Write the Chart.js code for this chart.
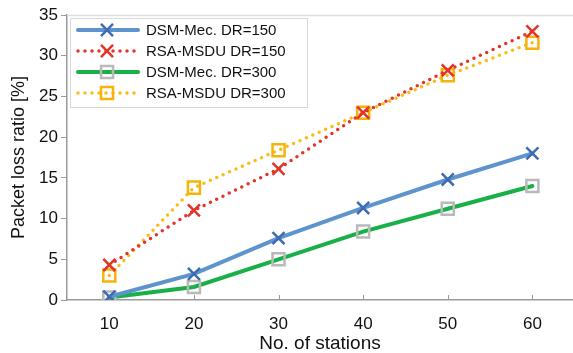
<!DOCTYPE html>
<html>
<head>
<meta charset="utf-8">
<script src="https://cdn.jsdelivr.net/npm/chart.js@4/dist/chart.umd.min.js"></script>
<style>
  html, body { margin: 0; padding: 0; background: #fff; }
  #wrap { width: 573px; height: 353px; }
</style>
</head>
<body>
<div id="wrap"><canvas id="loss-chart"></canvas></div>
<script>
const stations = [10, 20, 30, 40, 50, 60];
const dsm150 = [0.4, 3.2, 7.6, 11.3, 14.8, 18.0];
const rsa150 = [4.3, 11.0, 16.1, 23.0, 28.2, 33.0];
const dsm300 = [0.3, 1.6, 5.0, 8.4, 11.2, 14.0];
const rsa300 = [3.0, 13.8, 18.4, 23.0, 27.6, 31.6];
const yTicks = [0, 5, 10, 15, 20, 25, 30, 35];
const seriesNames = ['DSM-Mec. DR=150', 'RSA-MSDU DR=150', 'DSM-Mec. DR=300', 'RSA-MSDU DR=300'];

const FONT = '"Liberation Sans", Arial, sans-serif';
const AXIS = '#9a9a9a';

function series(label, values, line, marker, style, dotted) {
    return {
        label: label,
        data: stations.map((s, i) => ({x: s, y: values[i]})),
        borderColor: line,
        borderWidth: dotted ? 3.5 : 4,
        borderDash: dotted ? [0, 7] : [],
        borderCapStyle: 'round',
        pointStyle: style,
        pointRadius: 8.5,
        pointHoverRadius: 8.5,
        pointBorderWidth: 2.5,
        pointBorderColor: marker,
        pointBackgroundColor: 'rgba(0,0,0,0)',
        tension: 0,
        fill: false
    };
}

// legend box with line sample + marker, inside the plot's top-left corner
const boxLegend = {
    id: 'boxLegend',
    afterDatasetsDraw(chart) {
        const ctx = chart.ctx;
        const area = chart.chartArea;
        const x0 = area.left + 3, y0 = area.top + 3;
        ctx.save();
        ctx.fillStyle = '#fff';
        ctx.strokeStyle = '#d8d8d8';
        ctx.lineWidth = 1;
        ctx.fillRect(x0, y0, 237, 89);
        ctx.strokeRect(x0 + 0.5, y0 + 0.5, 237, 89);
        chart.data.datasets.forEach((ds, i) => {
            const cy = y0 + 12 + i * 21;
            ctx.save();
            ctx.strokeStyle = ds.borderColor;
            ctx.lineWidth = ds.borderWidth;
            ctx.lineCap = 'round';
            ctx.setLineDash(ds.borderDash);
            ctx.beginPath();
            ctx.moveTo(x0 + 8, cy);
            ctx.lineTo(x0 + 68, cy);
            ctx.stroke();
            ctx.restore();
            ctx.strokeStyle = ds.pointBorderColor;
            ctx.fillStyle = 'rgba(0,0,0,0)';
            ctx.lineWidth = ds.pointBorderWidth;
            ctx.setLineDash([]);
            Chart.helpers.drawPoint(ctx, {pointStyle: ds.pointStyle, radius: ds.pointRadius, borderWidth: ds.pointBorderWidth, rotation: 0}, x0 + 37, cy);
            ctx.fillStyle = '#111';
            ctx.font = '15px ' + FONT;
            ctx.textBaseline = 'middle';
            ctx.fillText(seriesNames[i], x0 + 76, cy + 1);
        });
        ctx.restore();
    }
};

// frame top line and inward x ticks
const frame = {
    id: 'frame',
    beforeDatasetsDraw(chart) {
        const ctx = chart.ctx;
        const area = chart.chartArea;
        const xs = chart.scales.x;
        ctx.save();
        ctx.strokeStyle = '#dedede';
        ctx.lineWidth = 1.5;
        ctx.beginPath();
        ctx.moveTo(area.left, area.top + 0.5);
        ctx.lineTo(area.right, area.top + 0.5);
        ctx.stroke();
        ctx.strokeStyle = AXIS;
        ctx.lineWidth = 1;
        stations.forEach(s => {
            const px = Math.round(xs.getPixelForValue(s)) + 0.5;
            ctx.beginPath();
            ctx.moveTo(px, area.bottom);
            ctx.lineTo(px, area.bottom - 5);
            ctx.stroke();
        });
        ctx.restore();
    }
};

new Chart(document.getElementById('loss-chart').getContext('2d'), {
    type: 'line',
    data: {
        datasets: [
            series(seriesNames[0], dsm150, 'rgb(94,148,205)', 'rgb(62,108,178)', 'crossRot', false),
            series(seriesNames[1], rsa150, 'rgb(226,52,40)', 'rgb(226,52,40)', 'crossRot', true),
            series(seriesNames[2], dsm300, 'rgb(25,176,72)', 'rgb(185,185,185)', 'rect', false),
            series(seriesNames[3], rsa300, 'rgb(250,188,20)', 'rgb(246,180,10)', 'rect', true)
        ]
    },
    options: {
        responsive: true,
        maintainAspectRatio: false,
        animation: false,
        layout: {autoPadding: false, padding: {top: 15, right: 0, left: 0, bottom: 0}},
        plugins: {legend: {display: false}, tooltip: {enabled: false}},
        scales: {
            x: {
                type: 'linear',
                min: 5,
                max: 64.8,
                afterBuildTicks: axis => { axis.ticks = stations.map(v => ({value: v})); },
                afterFit: axis => { axis.height = 53; axis.paddingLeft = 0; axis.paddingRight = 0; },
                border: {color: AXIS, width: 1.5},
                grid: {display: false, drawTicks: false},
                ticks: {color: '#111', font: {family: FONT, size: 17}, padding: 14, maxRotation: 0},
                title: {display: true, text: 'No. of stations', color: '#111', font: {family: FONT, size: 19}, padding: {top: 3, bottom: -2}}
            },
            y: {
                min: 0,
                max: 35,
                afterBuildTicks: axis => { axis.ticks = yTicks.map(v => ({value: v})); },
                afterFit: axis => { axis.width = 67; },
                border: {color: AXIS, width: 1.5},
                grid: {drawOnChartArea: false, drawTicks: true, tickLength: 6, color: AXIS},
                ticks: {color: '#111', font: {family: FONT, size: 17}, padding: 3},
                title: {display: true, text: 'Packet loss ratio [%]', color: '#111', font: {family: FONT, size: 18}, padding: {top: 8, bottom: 0}}
            }
        }
    },
    plugins: [frame, boxLegend]
});
</script>
</body>
</html>
